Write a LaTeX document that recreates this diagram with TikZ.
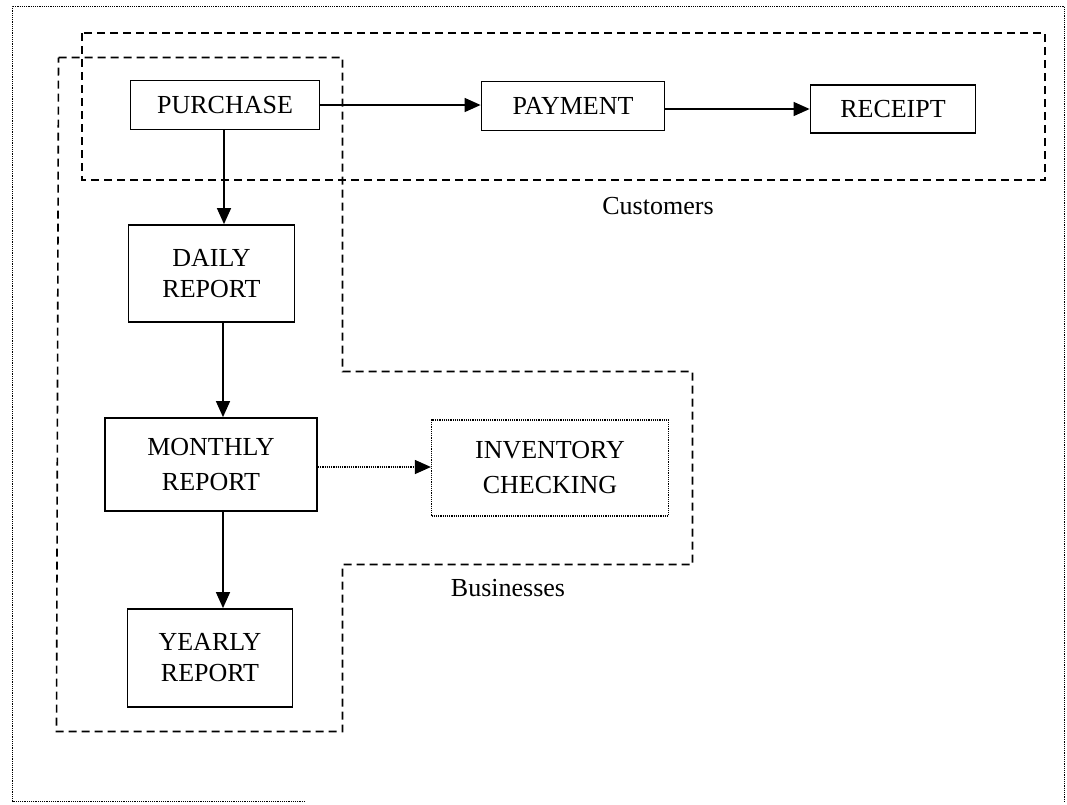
\documentclass[tikz,border=0pt]{standalone}
\usepackage{fontspec}
\setmainfont{Liberation Serif}
\usetikzlibrary{arrows.meta}

\tikzset{
  box/.style={draw, line width=1.8pt, align=center, inner sep=0pt,
    font=\fontsize{26}{31}\selectfont},
  widelines/.style={font=\fontsize{26}{35}\selectfont},
  flow/.style={draw, line width=1.4pt, -{Triangle[length=16pt,width=14pt]}},
  dotflow/.style={draw, line width=1.2pt, dash pattern=on 1.2pt off 1pt,
    -{Triangle[length=16pt,width=14pt]}},
  region/.style={draw, line width=1.6pt, dash pattern=on 8pt off 5pt},
  frame/.style={draw, line width=0.9pt, dash pattern=on 1.2pt off 1pt},
  caption/.style={font=\fontsize{26}{30}\selectfont, inner sep=0pt},
}

\begin{document}
\begin{tikzpicture}[x=1pt, y=-1pt]
  \useasboundingbox (0,0) rectangle (1067,804);

  % outer frame
  \path[frame] (305,801) -- (12,801) -- (12,6) -- (1064,6) -- (1064,801);

  % customer side
  \path[region] (82,33) rectangle (1045,180);
  \node[caption] (cust) at (658,206) {Customers};

  % business side
  \path[region] (58.5,57.5) -- (342.5,57.5) -- (342.5,371.5) -- (692.5,371.5) -- (692.5,564.5)
    -- (342.5,564.5) -- (342.5,731.5) -- (56.5,731.5) -- cycle;
  \node[caption] (bus) at (508,588) {Businesses};

  % process boxes
  \node[box, minimum width=189pt, minimum height=49pt] (purchase) at (225,105) {PURCHASE};
  \node[box, minimum width=183pt, minimum height=49pt] (payment) at (573,106) {PAYMENT};
  \node[box, minimum width=165pt, minimum height=48pt] (receipt) at (893,109) {RECEIPT};
  \node[box, minimum width=166pt, minimum height=97pt] (daily) at (211.5,273.5) {DAILY\\REPORT};
  \node[box, widelines, minimum width=212pt, minimum height=93pt] (monthly) at (211,464.5) {MONTHLY\\REPORT};
  \node[box, widelines, line width=1.2pt, dash pattern=on 1.2pt off 1pt,
        minimum width=237pt, minimum height=96pt] (inventory) at (550,468) {INVENTORY\\CHECKING};
  \node[box, minimum width=165pt, minimum height=98pt] (yearly) at (210,658) {YEARLY\\REPORT};

  % connectors
  \path[flow] (purchase.east) -- (purchase.east -| payment.west);
  \path[flow] (payment.east |- receipt.west) -- (receipt.west);
  \path[flow] (purchase.south -| 224,0) -- (daily.north -| 224,0);
  \path[flow] (daily.south -| 223,0) -- (monthly.north -| 223,0);
  \path[flow] (monthly.south -| 223,0) -- (yearly.north -| 223,0);
  \path[dotflow] (monthly.east |- 0,467) -- (inventory.west |- 0,467);
\end{tikzpicture}
\end{document}
